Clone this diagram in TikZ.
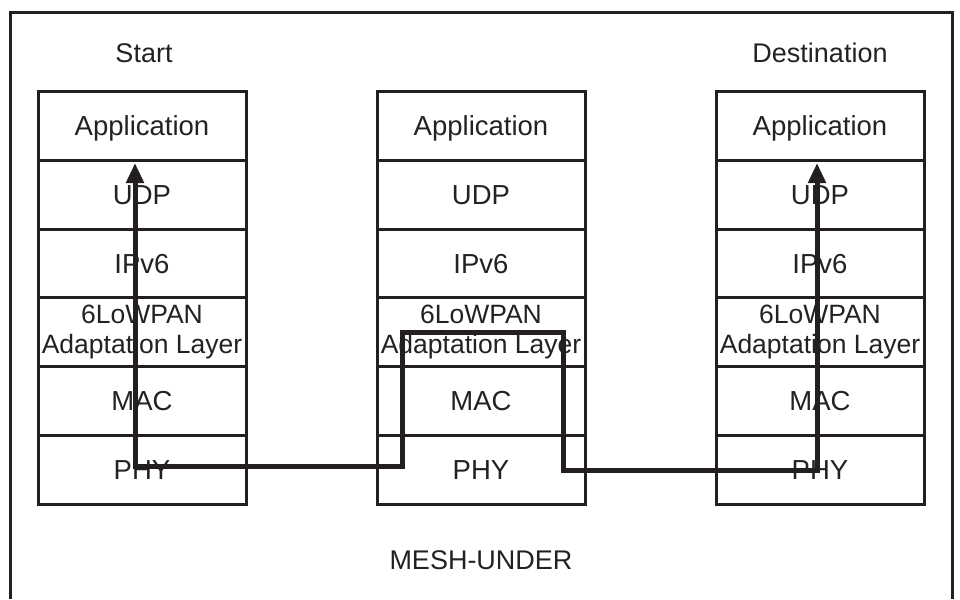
\documentclass[tikz,border=0pt]{standalone}
\usepackage{fontspec}
\setmainfont{Liberation Sans}
\usetikzlibrary{arrows.meta}
\definecolor{ink}{HTML}{231F20}
\definecolor{txt}{HTML}{222222}
\begin{document}
\begin{tikzpicture}[x=1pt,y=-1pt,
  cell/.style={draw=ink, line width=3pt, minimum width=208pt, minimum height=68.8pt,
    inner sep=0pt, font=\fontsize{27.5}{31}\selectfont, text=txt, align=center,
    text height=19.7pt, text depth=-1pt},
  twoline/.style={font=\fontsize{26.5}{30}\selectfont, text height=, text depth=},
  lbl/.style={font=\fontsize{27}{31}\selectfont, text=txt, inner sep=0pt},
  frame/.style={draw=ink, line width=3pt, line join=miter},
  route/.style={draw=ink, line width=5pt, line join=miter,
    {Triangle[length=20pt,width=17pt]}-{Triangle[length=20pt,width=17pt]}}]
\useasboundingbox (0,0) rectangle (960,599);
\draw[frame] (10,599) -- (10,13) -- (952,13) -- (952,599);
\foreach \c/\x in {L/142, M/481, R/820}{
  \node[cell] (\c1) at (\x,125.9) {Application};
  \node[cell] (\c2) at (\x,194.7) {UDP};
  \node[cell] (\c3) at (\x,263.5) {IPv6};
  \node[cell,twoline] (\c4) at (\x,332.3) {6LoWPAN\\Adaptation Layer};
  \node[cell] (\c5) at (\x,401.1) {MAC};
  \node[cell] (\c6) at (\x,469.9) {PHY};
}
\node[lbl] (start) at (144,53) {Start};
\node[lbl] (dest) at (820,53) {Destination};
\node[lbl] (mesh) at (481,560) {MESH-UNDER};
\coordinate (p0) at (135,163);
\coordinate (p1) at (135,466);
\coordinate (p2) at (402,466);
\coordinate (p3) at (402,332);
\coordinate (p4) at (563,332);
\coordinate (p5) at (563,470);
\coordinate (p6) at (817,470);
\coordinate (p7) at (817,163);
\draw[route] (p0) -- (p1) -- (p2) -- (p3) -- (p4) -- (p5) -- (p6) -- (p7);
\end{tikzpicture}
\end{document}
